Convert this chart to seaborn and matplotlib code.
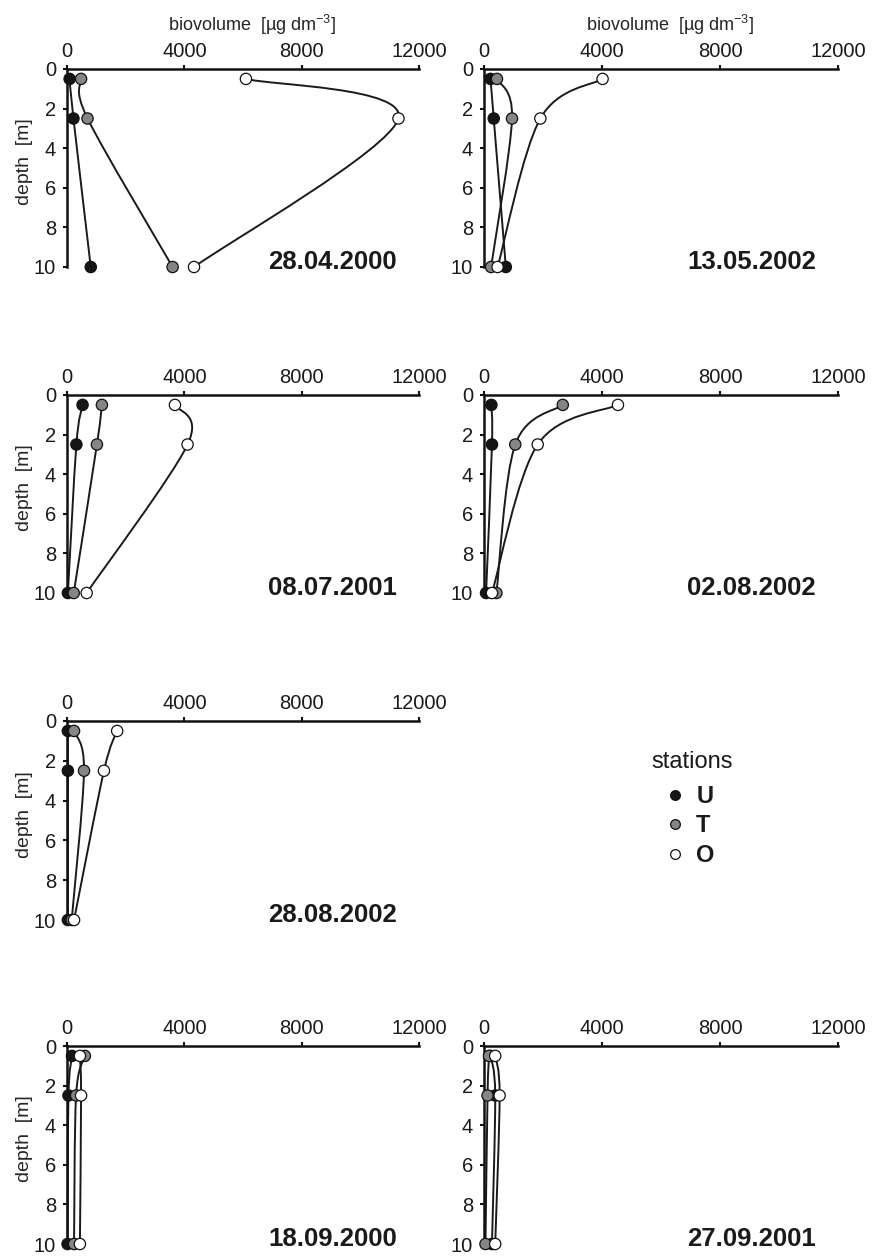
import numpy as np
import pandas as pd
import matplotlib
matplotlib.use("Agg")
import matplotlib.pyplot as plt
import seaborn as sns
from matplotlib.path import Path
from matplotlib.patches import PathPatch
from matplotlib.lines import Line2D

# ---------------- data ----------------
dates = ["28.04.2000", "13.05.2002", "08.07.2001", "02.08.2002",
         "28.08.2002", "18.09.2000", "27.09.2001"]
depths = [0.5, 2.5, 10.0]
stations = ["U", "T", "O"]
# biovolume [ug dm-3] at depths 0.5, 2.5, 10 m, one row per date
u_biovolume = [[90, 220, 810], [220, 330, 740], [530, 320, 30], [250, 270, 70],
               [30, 30, 30], [170, 50, 20], [220, 380, 270]]
t_biovolume = [[480, 700, 3600], [440, 950, 240], [1190, 1020, 230], [2670, 1060, 420],
               [240, 580, 160], [610, 310, 240], [170, 120, 50]]
o_biovolume = [[6100, 11300, 4330], [4020, 1910, 460], [3680, 4110, 670], [4540, 1820, 270],
               [1710, 1260, 240], [440, 480, 440], [380, 530, 380]]
x_ticks = [0, 4000, 8000, 12000]
y_ticks = [0, 2, 4, 6, 8, 10]

rows = []
for i, d in enumerate(dates):
    for st, vals in zip(stations, [u_biovolume, t_biovolume, o_biovolume]):
        for dep, v in zip(depths, vals[i]):
            rows.append({"date": d, "station": st, "depth": dep, "biovolume": v})
df = pd.DataFrame(rows)

# ---------------- style ----------------
sns.set_style("ticks")
plt.rcParams["font.family"] = ["Liberation Sans", "DejaVu Sans"]
plt.rcParams["mathtext.fontset"] = "custom"
plt.rcParams["mathtext.rm"] = "Liberation Sans"
plt.rcParams["mathtext.it"] = "Liberation Sans:italic"
plt.rcParams["text.color"] = "#1a1a1a"

palette = {"U": "#151515", "T": "#858585", "O": "#ffffff"}

W, H = 880, 1256
fig = plt.figure(figsize=(W / 100, H / 100), dpi=100)

# axes boxes in pixels (left, top, right, bottom)
boxes = [(67, 69, 419, 267), (484, 69, 838, 267),
         (67, 395, 419, 593), (484, 395, 838, 593),
         (67, 721, 419, 920),
         (67, 1046, 419, 1244), (484, 1046, 838, 1244)]


def smooth_path(xs, ys):
    pts = np.column_stack([xs, ys]).astype(float)
    n = len(pts)
    verts = [pts[0]]
    codes = [Path.MOVETO]
    for i in range(n - 1):
        p0 = pts[max(i - 1, 0)]
        p1 = pts[i]
        p2 = pts[i + 1]
        p3 = pts[min(i + 2, n - 1)]
        c1 = p1 + (p2 - p0) / 6.0
        c2 = p2 - (p3 - p1) / 6.0
        verts += [c1, c2, p2]
        codes += [Path.CURVE4] * 3
    return Path(verts, codes)


for idx, (date, (l, t, r, b)) in enumerate(zip(dates, boxes)):
    ax = fig.add_axes([l / W, 1 - b / H, (r - l) / W, (b - t) / H])
    sub = df[df["date"] == date]
    for st in stations:
        s = sub[sub["station"] == st]
        patch = PathPatch(smooth_path(s["biovolume"].values, s["depth"].values),
                          facecolor="none", edgecolor="#1a1a1a", lw=1.4,
                          clip_on=False, zorder=2)
        ax.add_patch(patch)
    sns.scatterplot(data=sub, x="biovolume", y="depth", hue="station",
                    palette=palette, hue_order=stations, s=66,
                    edgecolor="#111111", linewidth=0.9, legend=False,
                    clip_on=False, zorder=3, ax=ax)

    ax.set_xlim(0, 12000)
    ax.set_ylim(10, 0)
    ax.set_xticks(x_ticks)
    ax.set_xticklabels([str(v) for v in x_ticks])
    ax.set_yticks(y_ticks)
    ax.set_yticklabels([str(v) for v in y_ticks])
    ax.xaxis.tick_top()
    ax.xaxis.set_label_position("top")
    for sp in ["right", "bottom"]:
        ax.spines[sp].set_visible(False)
    for sp in ["top", "left"]:
        ax.spines[sp].set_linewidth(1.8)
        ax.spines[sp].set_color("#111111")
    ax.tick_params(axis="x", direction="out", length=3, width=1.5,
                   labelsize=14.5, pad=2.5, colors="#111111", labelcolor="#1a1a1a")
    ax.tick_params(axis="y", direction="out", length=3, width=1.5,
                   labelsize=14.5, pad=5, colors="#111111", labelcolor="#1a1a1a")

    if idx in (0, 1):
        ax.set_xlabel(r"biovolume  [µg dm$^{-3}$]", fontsize=13)
        ax.xaxis.set_label_coords(0.527, 1.19)
    else:
        ax.set_xlabel("")
    if l < 100:
        ax.set_ylabel("depth  [m]", fontsize=14)
        ax.yaxis.set_label_coords(-0.097, 0.53)
    else:
        ax.set_ylabel("")

    ax.text(0.9375, 0.025, date, transform=ax.transAxes, ha="right", va="center",
            fontsize=18.5, fontweight="bold", color="#1a1a1a")

fig.text(692 / W, 1 - 762 / H, "stations", ha="center", va="center", fontsize=17)
handles = [Line2D([], [], linestyle="none", marker="o", markersize=7,
                  markerfacecolor=palette[st], markeredgecolor="#111111",
                  markeredgewidth=0.9) for st in stations]
leg = fig.legend(handles, stations, loc="center",
                 bbox_to_anchor=(690 / W, 1 - 826 / H), frameon=False,
                 prop={"size": 17, "weight": "bold"},
                 handlelength=0.8, handletextpad=0.5, labelspacing=0.28)

fig.savefig("out.png", dpi=100, facecolor="white")
